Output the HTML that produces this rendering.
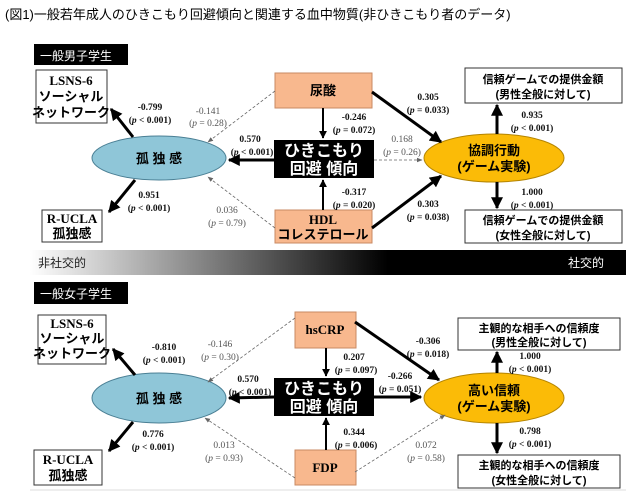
<!DOCTYPE html>
<html><head><meta charset="utf-8"><style>
body{margin:0;background:#fff;width:626px;height:503px;overflow:hidden}
svg{display:block}
.t{font-family:"Liberation Serif","Noto Serif CJK SC",serif;font-size:9.5px;font-weight:bold;text-anchor:middle;fill:#111}
.g{font-family:"Liberation Serif","Noto Serif CJK SC",serif;font-size:9.5px;text-anchor:middle;fill:#555}
.b{font-family:"Liberation Sans","Noto Sans CJK JP",sans-serif;font-weight:bold;font-size:13px;text-anchor:middle;fill:#000}
.s{font-family:"Liberation Serif","Noto Sans CJK JP",serif;font-weight:bold;font-size:13px;text-anchor:middle;fill:#000}
.w{font-family:"Liberation Sans","Noto Sans CJK JP",sans-serif;font-size:16px;text-anchor:middle;fill:#fff;font-weight:bold}
.k{font-family:"Liberation Sans","Noto Sans CJK JP",sans-serif;font-size:12px;fill:#fff}
</style></head><body>
<svg width="626" height="503" viewBox="0 0 626 503">
<defs>
<linearGradient id="gr" x1="0" x2="1"><stop offset="0" stop-color="#fff"/><stop offset="0.6" stop-color="#000"/><stop offset="1" stop-color="#000"/></linearGradient>
<marker id="a" viewBox="0 0 10 10" refX="9" refY="5" markerWidth="4" markerHeight="4" orient="auto"><path d="M0,0L10,5L0,10z" fill="#000"/></marker>
<marker id="d" viewBox="0 0 10 10" refX="9" refY="5" markerWidth="7" markerHeight="7" orient="auto"><path d="M0,1L10,5L0,9z" fill="#666"/></marker>
</defs>
<text x="5" y="19" style="font-family:'Liberation Sans','Noto Sans CJK JP',sans-serif;font-size:13px;fill:#000">(図1)一般若年成人のひきこもり回避傾向と関連する血中物質(非ひきこもり者のデータ)</text>

<!-- TOP -->
<rect x="34" y="44" width="94" height="21" fill="#000"/><text x="40" y="60" class="k">一般男子学生</text>
<rect x="36" y="70" width="71" height="53" fill="#fff" stroke="#333"/>
<text x="71" y="85" class="s">LSNS-6</text><text x="71" y="101" class="b">ソーシャル</text><text x="71" y="117" class="b">ネットワーク</text>
<rect x="42" y="210" width="60" height="32" fill="#fff" stroke="#333"/>
<text x="72" y="223" class="s">R-UCLA</text><text x="72" y="238" class="b">孤独感</text>
<ellipse cx="159" cy="158" rx="67" ry="22" fill="#8fc6d8" stroke="#4a7f94"/>
<text x="159" y="163" class="b">孤 独 感</text>
<rect x="275" y="73" width="97" height="35" fill="#f8b88e" stroke="#c98a63"/><text x="323" y="95" class="b">尿酸</text>
<rect x="274" y="140" width="100" height="38" fill="#000"/><text x="324" y="156" class="w">ひきこもり</text><text x="324" y="174" class="w">回避 傾向</text>
<rect x="275" y="210" width="97" height="33" fill="#f8b88e" stroke="#c98a63"/><text x="323" y="224" class="s">HDL</text><text x="323" y="239" class="b">コレステロール</text>
<ellipse cx="494" cy="158" rx="70" ry="24" fill="#fbbb07" stroke="#b48400"/>
<text x="494" y="155" class="b">協調行動</text><text x="494" y="171" class="b">(ゲーム実験)</text>
<rect x="465" y="68" width="157" height="35" fill="#fff" stroke="#333"/><text x="543" y="83" class="b" style="font-size:11px">信頼ゲームでの提供金額</text><text x="543" y="98" class="b" style="font-size:11px">(男性全般に対して)</text>
<rect x="465" y="210" width="157" height="33" fill="#fff" stroke="#333"/><text x="543" y="224" class="b" style="font-size:11px">信頼ゲームでの提供金額</text><text x="543" y="239" class="b" style="font-size:11px">(女性全般に対して)</text>

<g stroke="#000" stroke-width="3" fill="none" marker-end="url(#a)">
<line x1="133" y1="137" x2="111" y2="109"/><line x1="135" y1="180" x2="109" y2="212"/>
<line x1="274" y1="160" x2="229" y2="160"/>
<line x1="372" y1="92" x2="441" y2="142"/><line x1="372" y1="228" x2="441" y2="176"/>
<line x1="497" y1="134" x2="497" y2="105"/><line x1="497" y1="182" x2="497" y2="208"/>
</g>
<g stroke="#000" stroke-width="2" fill="none" marker-end="url(#a)">
<line x1="323" y1="108" x2="323" y2="138"/><line x1="323" y1="210" x2="323" y2="180"/>
</g>
<g stroke="#666" stroke-width="0.8" stroke-dasharray="3,2" fill="none" marker-end="url(#d)">
<line x1="275" y1="91" x2="208" y2="142"/><line x1="275" y1="228" x2="208" y2="177"/><line x1="374" y1="160" x2="422" y2="160"/>
</g>
<g transform="translate(0,3)">
<text x="150" y="107" class="t">-0.799</text><text x="150" y="120" class="t">(<tspan font-style="italic">p</tspan> &lt; 0.001)</text>
<text x="208" y="111" class="g">-0.141</text><text x="208" y="123" class="g">(<tspan font-style="italic">p</tspan> = 0.28)</text>
<text x="250" y="139" class="t">0.570</text><text x="252" y="152" class="t">(<tspan font-style="italic">p</tspan> &lt; 0.001)</text>
<text x="354" y="117" class="t">-0.246</text><text x="354" y="130" class="t">(<tspan font-style="italic">p</tspan> = 0.072)</text>
<text x="428" y="97" class="t">0.305</text><text x="428" y="110" class="t">(<tspan font-style="italic">p</tspan> = 0.033)</text>
<text x="402" y="139" class="g">0.168</text><text x="402" y="152" class="g">(<tspan font-style="italic">p</tspan> = 0.26)</text>
<text x="532" y="115" class="t">0.935</text><text x="532" y="128" class="t">(<tspan font-style="italic">p</tspan> &lt; 0.001)</text>
<text x="149" y="195" class="t">0.951</text><text x="149" y="208" class="t">(<tspan font-style="italic">p</tspan> &lt; 0.001)</text>
<text x="227" y="210" class="g">0.036</text><text x="227" y="223" class="g">(<tspan font-style="italic">p</tspan> = 0.79)</text>
<text x="354" y="192" class="t">-0.317</text><text x="354" y="205" class="t">(<tspan font-style="italic">p</tspan> = 0.020)</text>
<text x="428" y="204" class="t">0.303</text><text x="428" y="217" class="t">(<tspan font-style="italic">p</tspan> = 0.038)</text>
<text x="532" y="192" class="t">1.000</text><text x="532" y="205" class="t">(<tspan font-style="italic">p</tspan> &lt; 0.001)</text>
</g>

<!-- bar -->
<rect x="30" y="250" width="596" height="25" fill="url(#gr)"/>
<text x="38" y="267" style="font-family:'Liberation Sans','Noto Sans CJK JP',sans-serif;font-size:12px;fill:#222">非社交的</text>
<text x="568" y="267" style="font-family:'Liberation Sans','Noto Sans CJK JP',sans-serif;font-size:12px;fill:#fff">社交的</text>

<!-- BOTTOM -->
<rect x="34" y="282" width="94" height="22" fill="#000"/><text x="40" y="298" class="k">一般女子学生</text>
<rect x="38" y="315" width="68" height="49" fill="#fff" stroke="#333"/>
<text x="72" y="328" class="s">LSNS-6</text><text x="72" y="343" class="b">ソーシャル</text><text x="72" y="358" class="b">ネットワーク</text>
<rect x="34" y="450" width="68" height="35" fill="#fff" stroke="#333"/>
<text x="68" y="464" class="s">R-UCLA</text><text x="68" y="480" class="b">孤独感</text>
<ellipse cx="159" cy="398" rx="67" ry="25" fill="#8fc6d8" stroke="#4a7f94"/>
<text x="159" y="403" class="b">孤 独 感</text>
<rect x="295" y="312" width="61" height="36" fill="#f8b88e" stroke="#c98a63"/><text x="325" y="334" class="s">hsCRP</text>
<rect x="274" y="378" width="100" height="38" fill="#000"/><text x="324" y="394" class="w">ひきこもり</text><text x="324" y="412" class="w">回避 傾向</text>
<rect x="295" y="450" width="61" height="35" fill="#f8b88e" stroke="#c98a63"/><text x="325" y="472" class="s">FDP</text>
<ellipse cx="494" cy="398" rx="70" ry="25" fill="#fbbb07" stroke="#b48400"/>
<text x="494" y="395" class="b">高い信頼</text><text x="494" y="411" class="b">(ゲーム実験)</text>
<rect x="458" y="318" width="162" height="32" fill="#fff" stroke="#333"/><text x="539" y="332" class="b" style="font-size:11px">主観的な相手への信頼度</text><text x="539" y="346" class="b" style="font-size:11px">(男性全般に対して)</text>
<rect x="458" y="455" width="162" height="33" fill="#fff" stroke="#333"/><text x="539" y="469" class="b" style="font-size:11px">主観的な相手への信頼度</text><text x="539" y="484" class="b" style="font-size:11px">(女性全般に対して)</text>
<line x1="30" y1="490" x2="626" y2="490" stroke="#ddd"/>

<g stroke="#000" stroke-width="3" fill="none" marker-end="url(#a)">
<line x1="135" y1="375" x2="113" y2="349"/><line x1="133" y1="422" x2="109" y2="451"/>
<line x1="274" y1="397" x2="229" y2="398"/>
<line x1="355" y1="322" x2="439" y2="380"/><line x1="374" y1="397" x2="421" y2="397"/>
<line x1="497" y1="373" x2="497" y2="352"/><line x1="497" y1="423" x2="497" y2="453"/>
</g>
<g stroke="#000" stroke-width="2" fill="none" marker-end="url(#a)">
<line x1="326" y1="348" x2="326" y2="376"/><line x1="326" y1="450" x2="326" y2="418"/>
</g>
<g stroke="#666" stroke-width="0.8" stroke-dasharray="3,2" fill="none" marker-end="url(#d)">
<line x1="295" y1="318" x2="208" y2="382"/><line x1="295" y1="478" x2="205" y2="418"/><line x1="355" y1="472" x2="445" y2="415"/>
</g>
<g transform="translate(0,3)">
<text x="164" y="347" class="t">-0.810</text><text x="164" y="360" class="t">(<tspan font-style="italic">p</tspan> &lt; 0.001)</text>
<text x="220" y="344" class="g">-0.146</text><text x="220" y="357" class="g">(<tspan font-style="italic">p</tspan> = 0.30)</text>
<text x="248" y="379" class="t">0.570</text><text x="250" y="392" class="t">(<tspan font-style="italic">p</tspan> &lt; 0.001)</text>
<text x="354" y="357" class="t">0.207</text><text x="356" y="370" class="t">(<tspan font-style="italic">p</tspan> = 0.097)</text>
<text x="428" y="341" class="t">-0.306</text><text x="428" y="354" class="t">(<tspan font-style="italic">p</tspan> = 0.018)</text>
<text x="400" y="376" class="t">-0.266</text><text x="400" y="389" class="t">(<tspan font-style="italic">p</tspan> = 0.051)</text>
<text x="530" y="356" class="t">1.000</text><text x="530" y="369" class="t">(<tspan font-style="italic">p</tspan> &lt; 0.001)</text>
<text x="153" y="434" class="t">0.776</text><text x="153" y="447" class="t">(<tspan font-style="italic">p</tspan> &lt; 0.001)</text>
<text x="224" y="445" class="g">0.013</text><text x="224" y="458" class="g">(<tspan font-style="italic">p</tspan> = 0.93)</text>
<text x="354" y="432" class="t">0.344</text><text x="356" y="445" class="t">(<tspan font-style="italic">p</tspan> = 0.006)</text>
<text x="426" y="445" class="g">0.072</text><text x="426" y="458" class="g">(<tspan font-style="italic">p</tspan> = 0.58)</text>
<text x="530" y="431" class="t">0.798</text><text x="530" y="444" class="t">(<tspan font-style="italic">p</tspan> &lt; 0.001)</text>
</g>
</svg>
</body></html>
